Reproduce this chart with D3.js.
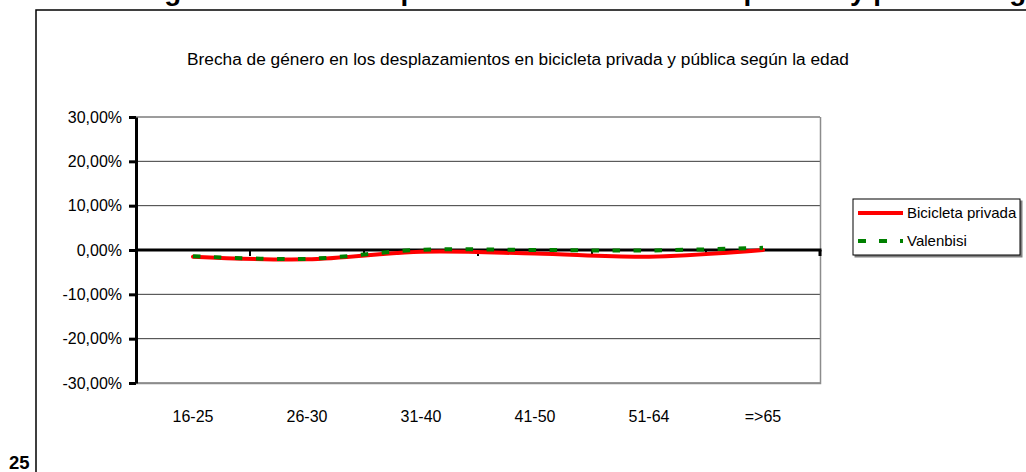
<!DOCTYPE html>
<html>
<head>
<meta charset="utf-8">
<script src="https://cdn.jsdelivr.net/npm/d3@7"></script>
<style>
body{margin:0;background:#fff;}
svg{display:block;font-family:"Liberation Sans",Arial,sans-serif;}
</style>
</head>
<body>
<div id="chart"></div>
<script>
// datos (en %)
var categories=["16-25","26-30","31-40","41-50","51-64","=>65"];
var privada=[-1.5,-2.1,-0.4,-0.8,-1.5,0.0];
var valenbisi=[-1.4,-2.0,0.05,0.0,-0.1,0.5];
var yTicks=[-30,-20,-10,0,10,20,30];
var seriesNames=["Bicicleta privada","Valenbisi"];
var seriesColors=["#ff0000","#008000"];
var chartTitle="Brecha de género en los desplazamientos en bicicleta privada y pública según la edad";
var pageHeading="Brecha de género en los desplazamientos en bicicleta privada y pública según la edad";
var pageNumber="25";

var width=1026, height=472;
var plot={left:136,right:820,top:117,bottom:383};

var svg=d3.select("#chart").append("svg")
	.attr("width",width)
	.attr("height",height);

var locale=d3.formatLocale({decimal:",",thousands:".",grouping:[3],currency:["","€"],minus:"-"});
var fmt=locale.format(".2f");

var x=d3.scaleBand().domain(categories).range([plot.left,plot.right]);
var y=d3.scaleLinear().domain([-30,30]).range([plot.bottom,plot.top]);

// cabecera del documento (cortada por arriba, como en la pagina original)
svg.append("text")
	.attr("x",22).attr("y",0)
	.style("font-weight","bold")
	.style("font-size","27.8px")
	.text(pageHeading);

// marco exterior
svg.append("path")
	.attr("d","M36,"+height+"V10H"+width)
	.attr("fill","none")
	.attr("stroke","#000")
	.attr("stroke-width",1.5);

// numero de pagina
svg.append("text")
	.attr("x",9).attr("y",469)
	.style("font-weight","bold")
	.style("font-size","18.5px")
	.text(pageNumber);

// titulo
svg.append("text")
	.attr("x",187).attr("y",65)
	.style("font-size","17.3px")
	.attr("fill","#000")
	.text(chartTitle);

// rejilla
svg.append("g").selectAll("line")
	.data(yTicks.filter(function(d){return d!=0;}))
	.enter().append("line")
	.attr("x1",plot.left).attr("x2",plot.right)
	.attr("y1",function(d){return y(d);})
	.attr("y2",function(d){return y(d);})
	.attr("stroke","#3a3a3a")
	.attr("stroke-width",1);

// borde del area de trazado
svg.append("path")
	.attr("d","M"+plot.left+","+(plot.bottom+0.5)+"H"+(plot.right+0.5)+"V"+plot.top)
	.attr("fill","none")
	.attr("stroke","#8c8c8c")
	.attr("stroke-width",1.5);

// eje y
var yAxis=svg.append("g")
	.attr("transform","translate("+plot.left+",0)")
	.call(d3.axisLeft(y).tickValues(yTicks).tickSize(7).tickSizeOuter(0).tickPadding(7)
		.tickFormat(function(d){return fmt(d)+"%";}));
yAxis.select(".domain").attr("stroke","#000").attr("stroke-width",3);
yAxis.selectAll(".tick line").attr("stroke","#000").attr("stroke-width",3);
yAxis.selectAll(".tick text")
	.style("font-size","16px")
	.style("font-family","'Liberation Sans',Arial,sans-serif")
	.attr("fill","#000");

// eje x en el cero
var y0=y(0);
svg.append("line")
	.attr("x1",plot.left).attr("x2",plot.right+1.5)
	.attr("y1",y0).attr("y2",y0)
	.attr("stroke","#000").attr("stroke-width",3);
svg.append("g").selectAll("line")
	.data(categories)
	.enter().append("line")
	.attr("x1",function(d){return x(d)+x.step();})
	.attr("x2",function(d){return x(d)+x.step();})
	.attr("y1",y0).attr("y2",y0+6)
	.attr("stroke","#000")
	.attr("stroke-width",function(d,i){return i==categories.length-1?3:2;});

// etiquetas de categoria
svg.append("g").selectAll("text")
	.data(categories)
	.enter().append("text")
	.attr("x",function(d){return x(d)+x.bandwidth()/2;})
	.attr("y",422)
	.attr("text-anchor","middle")
	.style("font-size","16px")
	.text(function(d){return d;});

// series
var lineCurve=d3.line()
	.curve(d3.curveCatmullRom.alpha(0.5))
	.x(function(d,i){return x(categories[i])+x.bandwidth()/2;})
	.y(function(d){return y(d);});

svg.append("path")
	.attr("d",lineCurve(privada))
	.attr("fill","none")
	.attr("stroke",seriesColors[0])
	.attr("stroke-width",4)
	.attr("stroke-linecap","round");
svg.append("path")
	.attr("d",lineCurve(valenbisi))
	.attr("fill","none")
	.attr("stroke",seriesColors[1])
	.attr("stroke-width",4)
	.attr("stroke-dasharray","7.5,13.5");

// leyenda
var legend=svg.append("g").attr("transform","translate(853,199)");
legend.append("rect")
	.attr("x",1.5).attr("y",1.5).attr("width",168).attr("height",57)
	.attr("fill","#808080");
legend.append("rect")
	.attr("x",0).attr("y",0).attr("width",167).attr("height",56)
	.attr("fill","#fff").attr("stroke","#000").attr("stroke-width",1);
var items=legend.selectAll("g.item")
	.data(seriesNames)
	.enter().append("g").attr("class","item")
	.attr("transform",function(d,i){return "translate(0,"+(14+i*28)+")";});
items.append("line")
	.attr("x1",5).attr("x2",50).attr("y1",0).attr("y2",0)
	.attr("stroke",function(d,i){return seriesColors[i];})
	.attr("stroke-width",4)
	.attr("stroke-dasharray",function(d,i){return i==1?"8,13":null;});
items.append("text")
	.attr("x",54).attr("y",0).attr("dy","0.36em")
	.style("font-size","15px")
	.text(function(d){return d;});
</script>
</body>
</html>
